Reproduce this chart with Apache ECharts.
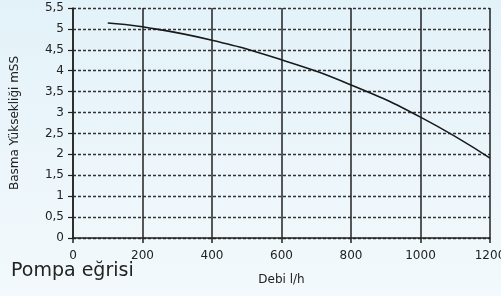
<!DOCTYPE html>
<html>
<head>
<meta charset="utf-8">
<script src="https://cdn.jsdelivr.net/npm/echarts@6/dist/echarts.min.js"></script>
<style>
    html,body{margin:0;padding:0;}
    #chart{width:501px;height:296px;background:linear-gradient(#e3f2f9,#f3f9fc);}
</style>
</head>
<body>
<div id="chart"></div>
<script>
    // debi (l/h) ve basma yuksekligi (mSS)
    var flowValues = [100, 200, 400, 600, 800, 1000, 1200];
    var headValues = [5.14, 5.05, 4.73, 4.26, 3.66, 2.89, 1.91];
    var yTickLabels = ['0', '0,5', '1', '1,5', '2', '2,5', '3', '3,5', '4', '4,5', '5', '5,5'];

    var lineData = flowValues.map(function(f, i){ return [f, headValues[i]]; });
    var fontName = 'DejaVu Sans';

    var myChart = echarts.init(document.getElementById('chart'));
    var option = {
        animation: false,
        title: {
            text: 'Pompa eğrisi',
            left: 6,
            top: 257,
            textStyle: {color: '#222', fontSize: 19, fontWeight: 'normal', fontFamily: fontName}
        },
        grid: {left: 73, right: 11, top: 8, bottom: 58, outerBoundsMode: 'none'},
        xAxis: {
            type: 'value',
            min: 0,
            max: 1200,
            interval: 200,
            name: 'Debi l/h',
            nameLocation: 'middle',
            nameGap: 36,
            nameTextStyle: {color: '#222', fontSize: 12, fontFamily: fontName},
            axisLine: {show: true, lineStyle: {color: '#222', width: 1.5}},
            axisTick: {show: true, length: 5, inside: false, lineStyle: {color: '#222', width: 1.5}},
            axisLabel: {
                color: '#222', fontSize: 12, fontFamily: fontName, margin: 12,
                formatter: function(v){ return String(v); }
            },
            splitLine: {show: true, lineStyle: {color: '#222', width: 1.5}}
        },
        yAxis: {
            type: 'value',
            min: 0,
            max: 5.5,
            interval: 0.5,
            name: 'Basma Yüksekliği mSS',
            nameLocation: 'middle',
            nameGap: 52,
            nameTextStyle: {color: '#222', fontSize: 12, fontFamily: fontName},
            axisLine: {show: true, lineStyle: {color: '#222', width: 1.5}},
            axisTick: {show: true, length: 5, lineStyle: {color: '#222', width: 1.2}},
            axisLabel: {
                color: '#222', fontSize: 12, fontFamily: fontName, margin: 9,
                formatter: function(v){ return yTickLabels[Math.round(v * 2)]; }
            },
            splitLine: {show: true, lineStyle: {color: '#333', width: 1.3, type: [3, 2]}}
        },
        series: [{
            type: 'line',
            data: lineData,
            smooth: true,
            showSymbol: false,
            lineStyle: {color: '#1a1a1a', width: 1.6}
        }]
    };
    myChart.setOption(option);
</script>
</body>
</html>
